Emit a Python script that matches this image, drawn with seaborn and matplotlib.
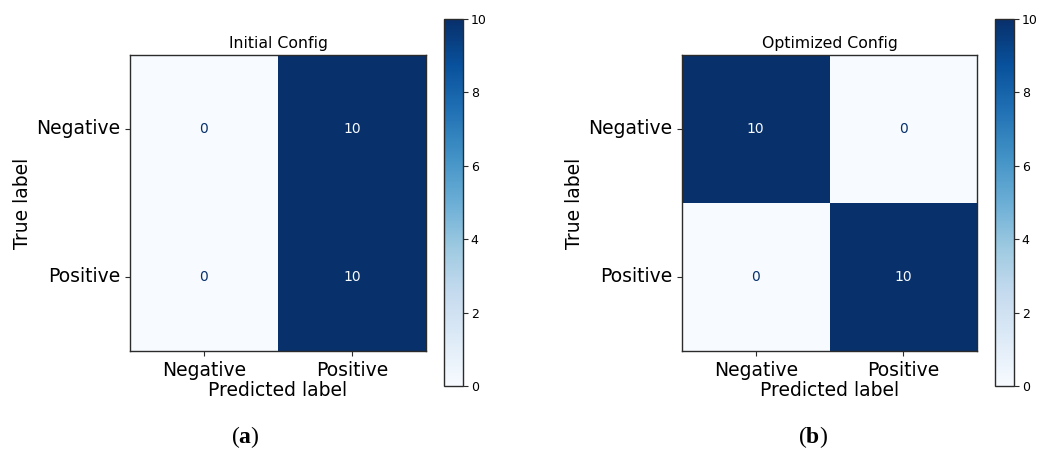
import numpy as np
import pandas as pd
import matplotlib
matplotlib.use("Agg")
import matplotlib.pyplot as plt
import seaborn as sns

# Class names and confusion-matrix counts (rows: true label, cols: predicted label)
classes = ["Negative", "Positive"]
initial_counts = [[0, 10],
                  [0, 10]]
optimized_counts = [[10, 0],
                    [0, 10]]
titles = ["Initial Config", "Optimized Config"]
captions = ["a", "b"]
cbar_ticks = [0, 2, 4, 6, 8, 10]

plt.rcParams["mathtext.fontset"] = "custom"
plt.rcParams["mathtext.rm"] = "Liberation Serif"
plt.rcParams["mathtext.bf"] = "Liberation Serif:bold"

W, H = 1038, 450
fig = plt.figure(figsize=(W / 100, H / 100), dpi=100)


def px_box(x0, y0, x1, y1):
    return [x0 / W, 1 - y1 / H, (x1 - x0) / W, (y1 - y0) / H]


panels = [
    dict(ax=px_box(130, 55, 426, 351), cbar=px_box(444, 19, 462.5, 386), cap_x=245),
    dict(ax=px_box(682, 55, 977, 351), cbar=px_box(995, 19, 1013.5, 386), cap_x=813),
]

cmap = plt.get_cmap("Blues")
edge = "#2b2b2b"

for counts, title, cap, spec in zip([initial_counts, optimized_counts], titles, captions, panels):
    df = pd.DataFrame(counts, index=classes, columns=classes)
    ax = fig.add_axes(spec["ax"])
    cax = fig.add_axes(spec["cbar"])
    sns.heatmap(df, ax=ax, cbar_ax=cax, cmap="Blues", vmin=0, vmax=10,
                annot=True, fmt="d", annot_kws={"fontsize": 10}, square=False)
    # Light text on dark cells, dark text on light cells
    vmid = 5
    for txt in ax.texts:
        val = float(txt.get_text())
        txt.set_color(cmap(0.0) if val > vmid else cmap(1.0))

    for s in ax.spines.values():
        s.set_visible(True)
        s.set_color(edge)
        s.set_linewidth(1.0)
    ax.tick_params(axis="both", length=3.5, width=0.8, color=edge, labelsize=13.5)
    plt.setp(ax.get_yticklabels(), rotation=0, va="center")
    plt.setp(ax.get_xticklabels(), rotation=0)
    ax.set_xlabel("Predicted label", fontsize=13.5, labelpad=1)
    ax.set_ylabel("True label", fontsize=13.5, labelpad=3)
    ax.set_title(title, fontsize=11.3, pad=5)

    cb = ax.collections[0].colorbar
    cb.set_ticks(cbar_ticks)
    cb.outline.set_visible(True)
    cb.outline.set_edgecolor(edge)
    cb.outline.set_linewidth(1.0)
    cax.tick_params(labelsize=9, length=3.5, width=0.8, color=edge, pad=2.5)

    fig.text(spec["cap_x"] / W, 1 - 437 / H, r"($\mathbf{" + cap + r"}$)",
             family="Liberation Serif", fontsize=17, ha="center", va="center")

fig.savefig("out.png", dpi=100, facecolor="white")
